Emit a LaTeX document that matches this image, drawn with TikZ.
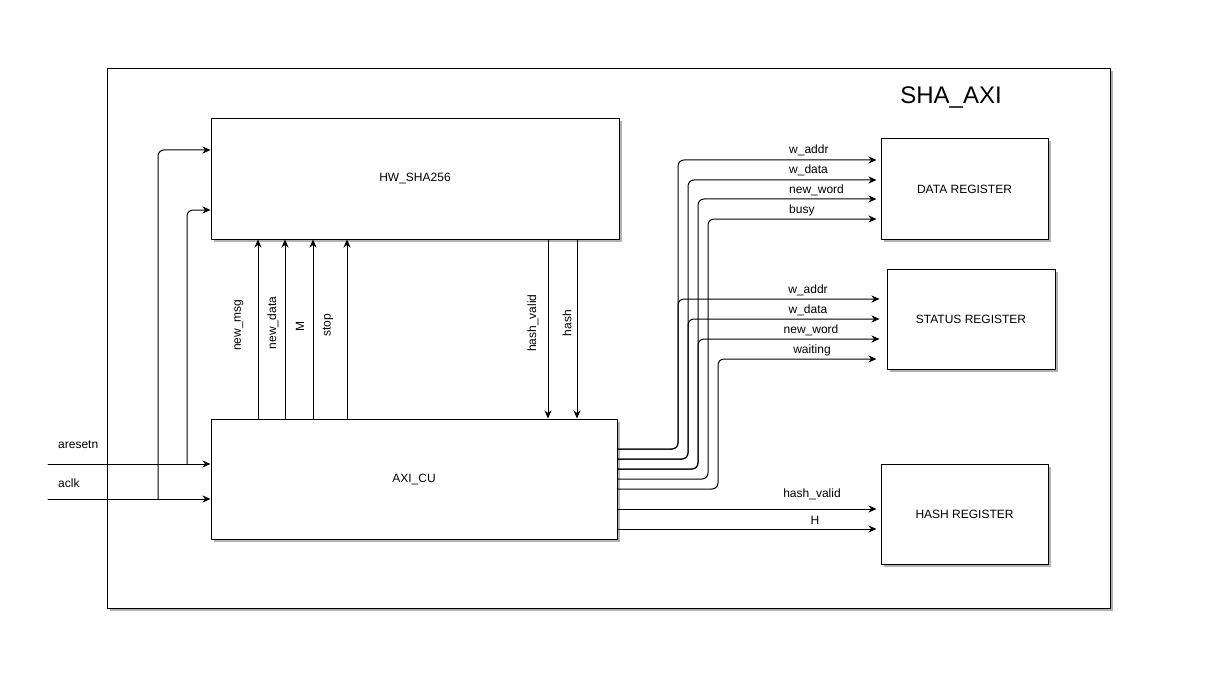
\documentclass[tikz,border=0pt]{standalone}
\usepackage{fontspec}
\setmainfont{Liberation Sans}
\usetikzlibrary{arrows.meta,positioning,shadows,calc}

\tikzset{
  blk/.style={draw, fill=white, line width=1pt, inner sep=0pt,
    font=\fontsize{12}{14}\selectfont,
    drop shadow={shadow xshift=2.5pt, shadow yshift=-2.5pt, fill=black!30, opacity=1}},
  lbl/.style={font=\fontsize{12}{14}\selectfont, inner sep=0pt},
  wire/.style={->, line width=1pt, rounded corners=6pt}
}

\begin{document}
\begin{tikzpicture}[x=1pt,y=-1pt,line cap=round,line join=round,
  >={Stealth[length=8pt,width=7pt,inset=2.5pt]}]
\useasboundingbox (0,0) rectangle (1220,687);
% outer block
\node[blk, minimum width=1003pt, minimum height=539pt] (shaaxi) at (608.5,338.5) {};
\node[font=\fontsize{24}{28}\selectfont] (title) at (951,98) {SHA\_AXI};
% inner blocks
\node[blk, minimum width=408pt, minimum height=120pt] (hwsha) at (415,179) {HW\_SHA256};
\node[blk, minimum width=406pt, minimum height=120pt] (axicu) at (414,479) {AXI\_CU};
\node[blk, minimum width=167pt, minimum height=100pt] (datareg) at (964.5,189) {DATA REGISTER};
\node[blk, minimum width=168pt, minimum height=100pt] (statreg) at (971,319) {STATUS REGISTER};
\node[blk, minimum width=167pt, minimum height=100pt] (hashreg) at (964.5,514) {HASH REGISTER};

% inputs
\coordinate (rstin) at (48,464);
\coordinate (clkin) at (48,499);
\coordinate (rstsplit) at (187,464);
\coordinate (clksplit) at (158,499);
\draw[wire] (rstin) -- (rstin -| axicu.west);
\draw[wire] (clkin) -- (clkin -| axicu.west);
\draw[wire] (rstsplit) |- (hwsha.west |- 0,210);
\draw[wire] (clksplit) |- (hwsha.west |- 0,150);
\node[lbl, anchor=west] (rstlbl) at (58,445) {aresetn};
\node[lbl, anchor=west] (clklbl) at (58,483) {aclk};

% AXI_CU <-> HW_SHA256
\foreach \x in {258,285,313,347}
  \draw[wire] (axicu.north -| \x,0) -- (hwsha.south -| \x,0);
\foreach \x in {548,577}
  \draw[wire] (hwsha.south -| \x,0) -- (axicu.north -| \x,0);
\foreach \x/\y/\t in {239/325/new\_msg, 273/323/new\_data, 300/327/M, 328/325/stop,
                      533/323/hash\_valid, 567/323/hash}
  \node[lbl, rotate=90] at (\x,\y) {\t};

% AXI_CU -> DATA REGISTER
\foreach \y/\x/\yd in {449/678/160, 459/688/180, 469/698/199, 479/708/219}
  \draw[wire, shorten >=4pt] (axicu.east |- 0,\y) -| (\x,\yd) -- (datareg.west |- 0,\yd);
\foreach \y/\t in {150/w\_addr, 170/w\_data, 190/new\_word, 210/busy}
  \node[lbl, anchor=west] at (789,\y) {\t};

% AXI_CU -> STATUS REGISTER
\foreach \y/\x/\ys/\s in {449/678/299/7, 459/688/319/7, 469/698/339/7, 489/718/359/10}
  \draw[wire, shorten >=\s pt] (axicu.east |- 0,\y) -| (\x,\ys) -- (statreg.west |- 0,\ys);
\foreach \x/\y/\t in {808/290/w\_addr, 808/310/w\_data, 811/330/new\_word, 812/350/waiting}
  \node[lbl] at (\x,\y) {\t};

% AXI_CU -> HASH REGISTER
\foreach \y in {509,529}
  \draw[wire, shorten >=4pt] (axicu.east |- 0,\y) -- (hashreg.west |- 0,\y);
\node[lbl] at (812,494) {hash\_valid};
\node[lbl] at (815,520) {H};
\end{tikzpicture}
\end{document}
